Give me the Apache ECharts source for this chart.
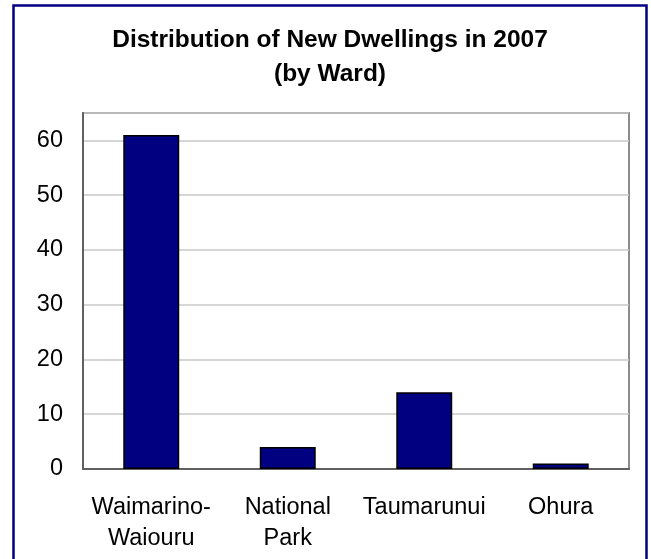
<!DOCTYPE html>
<html>
<head>
<meta charset="utf-8">
<title>Distribution of New Dwellings in 2007</title>
<script src="https://cdn.jsdelivr.net/npm/echarts@6/dist/echarts.min.js"></script>
<style>
  html, body { margin: 0; padding: 0; background: #ffffff; }
  #chart { width: 651px; height: 559px; }
</style>
</head>
<body>
<div id="chart"></div>
<script>
// Ward names (line-broken as printed) and number of new dwellings per ward
const wards = ['Waimarino-\nWaiouru', 'National\nPark', 'Taumarunui', 'Ohura'];
const newDwellings = [61, 4, 14, 1];

// Value axis range and step
const yMin = 0;
const yMax = 65;
const yStep = 10;

const titleText = 'Distribution of New Dwellings in 2007\n(by Ward)';
const fontFamily = '"Liberation Sans", Arial, sans-serif';

const chart = echarts.init(document.getElementById('chart'), null, { renderer: 'canvas' });

chart.setOption({
  backgroundColor: '#ffffff',
  animation: false,
  textStyle: { fontFamily: fontFamily },
  title: {
    text: titleText,
    left: 330,
    top: 23,
    padding: 0,
    textAlign: 'center',
    textStyle: {
      fontFamily: fontFamily,
      fontWeight: 'bold',
      fontSize: 24.5,
      lineHeight: 34,
      color: '#000000'
    }
  },
  graphic: [{
    // outer frame around the whole chart
    type: 'rect',
    silent: true,
    z: 100,
    shape: { x: 13.5, y: 5.5, width: 633, height: 620 },
    style: { fill: null, stroke: '#000080', lineWidth: 2.5 }
  }],
  grid: {
    left: 83,
    right: 22,
    top: 113,
    bottom: 90,
    containLabel: false,
    show: true,
    backgroundColor: '#ffffff',
    borderColor: '#8c8c8c',
    borderWidth: 2
  },
  xAxis: {
    type: 'category',
    data: wards,
    axisLine: { show: true, lineStyle: { color: '#606060', width: 2 } },
    axisTick: { show: false },
    axisLabel: {
      color: '#000000',
      fontFamily: fontFamily,
      fontSize: 23.5,
      lineHeight: 31,
      margin: 23.5,
      interval: 0
    },
    splitLine: { show: false }
  },
  yAxis: {
    type: 'value',
    min: yMin,
    max: yMax,
    interval: yStep,
    axisLine: { show: true, lineStyle: { color: '#606060', width: 2 } },
    axisTick: { show: false },
    axisLabel: {
      color: '#000000',
      fontFamily: fontFamily,
      fontSize: 23.5,
      margin: 20,
      showMaxLabel: false,
      formatter: function (v) { return v % yStep === 0 ? String(v) : ''; }
    },
    splitLine: { show: true, lineStyle: { color: '#c8c8c8', width: 1.5 } }
  },
  series: [{
    type: 'bar',
    data: newDwellings,
    barWidth: '41%',
    itemStyle: {
      color: '#000080',
      borderColor: '#000000',
      borderWidth: 1.5
    }
  }]
});
</script>
</body>
</html>
